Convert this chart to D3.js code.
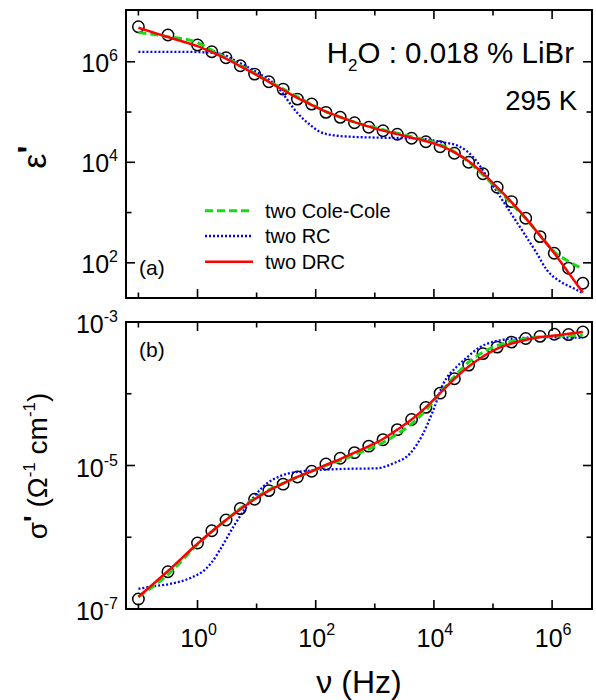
<!DOCTYPE html>
<html><head><meta charset="utf-8">
<script src="https://cdn.jsdelivr.net/npm/d3@7"></script>
<style>body{margin:0;background:#fff} svg{display:block}</style>
</head><body>
<svg id="c" width="596" height="700"></svg>
<script>
// ---- data (frequency in Hz) ----
const nu = [0.1, 0.316, 1, 1.744, 3.04, 5.30, 9.25, 16.1, 28.1, 49.0, 85.5, 149, 260, 453, 791,
  1377, 2404, 4188, 7311, 12735, 22233, 38726, 67608, 117761, 205589, 358096, 625173, 1089000, 1901000, 3311000];

const epsMeas = [4.97e6, 3.40e6, 2.15e6, 1.58e6, 1.20e6, 8.32e5, 5.69e5, 4.00e5, 2.86e5, 1.81e5,
  1.44e5, 9.86e4, 7.85e4, 6.12e4, 4.97e4, 4.25e4, 3.61e4, 3.00e4, 2.57e4, 2.04e4,
  1.51e4, 1.00e4, 5.93e3, 3.18e3, 1.65e3, 771, 332, 155, 78.2, 39.3];
const epsColeCole = [3.84e6, 3.16e6, 2.40e6, 1.70e6, 1.20e6, 8.51e5, 5.89e5, 4.07e5, 2.88e5, 2.00e5,
  1.41e5, 1.02e5, 7.94e4, 6.31e4, 5.25e4, 4.47e4, 3.80e4, 3.24e4, 2.75e4, 2.24e4,
  1.62e4, 1.02e4, 5.62e3, 2.95e3, 1.51e3, 759, 355, 166, 107, 75.9];
const epsDRC = [4.74e6, 3.09e6, 2.04e6, 1.55e6, 1.15e6, 8.13e5, 5.75e5, 3.98e5, 2.75e5, 1.91e5,
  1.38e5, 1.02e5, 7.94e4, 6.31e4, 5.13e4, 4.27e4, 3.63e4, 3.09e4, 2.63e4, 2.14e4,
  1.58e4, 1.05e4, 6.03e3, 3.16e3, 1.62e3, 776, 347, 155, 63.1, 25.7];
const nuRCeps = [0.1, 0.5, 1.86, 2.82, 4.07, 8.71, 22.4, 49, 81.3, 117, 195, 380, 1380, 5130,
  12600, 27500, 45700, 79400, 132000, 219000, 347000, 550000, 813000, 1380000, 2290000, 3310000];
const epsRC = [1.58e6, 1.58e6, 1.51e6, 1.38e6, 1.10e6, 6.84e5, 3.18e5, 9.55e4, 5.48e4, 4.06e4, 3.46e4, 3.23e4, 3.08e4, 3.00e4,
  2.57e4, 2.04e4, 1.29e4, 5.18e3, 2.07e3, 828, 363, 155, 72.3, 42.3, 31.3, 24.9];

const sigMeas = [1.38e-7, 3.31e-7, 8.32e-7, 1.23e-6, 1.74e-6, 2.51e-6, 3.39e-6, 4.47e-6, 5.50e-6, 6.92e-6,
  8.32e-6, 1.05e-5, 1.26e-5, 1.51e-5, 1.86e-5, 2.29e-5, 3.16e-5, 4.37e-5, 6.46e-5, 1.02e-4,
  1.62e-4, 2.51e-4, 3.63e-4, 4.47e-4, 5.25e-4, 5.89e-4, 6.31e-4, 6.76e-4, 6.68e-4, 7.24e-4];
const sigColeCole = [1.48e-7, 3.02e-7, 7.94e-7, 1.20e-6, 1.74e-6, 2.51e-6, 3.47e-6, 4.57e-6, 5.62e-6, 6.92e-6,
  8.32e-6, 1.00e-5, 1.17e-5, 1.41e-5, 1.70e-5, 2.09e-5, 2.75e-5, 3.80e-5, 5.89e-5, 1.02e-4,
  1.74e-4, 2.75e-4, 3.80e-4, 4.68e-4, 5.37e-4, 5.89e-4, 6.17e-4, 6.31e-4, 6.46e-4, 6.53e-4];
const sigDRC = [1.48e-7, 3.39e-7, 8.13e-7, 1.20e-6, 1.74e-6, 2.45e-6, 3.39e-6, 4.47e-6, 5.62e-6, 6.92e-6,
  8.32e-6, 1.02e-5, 1.23e-5, 1.51e-5, 1.86e-5, 2.34e-5, 3.16e-5, 4.37e-5, 6.46e-5, 1.02e-4,
  1.62e-4, 2.40e-4, 3.31e-4, 4.27e-4, 5.01e-4, 5.62e-4, 6.17e-4, 6.46e-4, 6.84e-4, 7.24e-4];
const nuRCsig = [0.1, 0.158, 0.343, 0.746, 1.43, 1.74, 2.4, 4.07, 6.76, 12.9, 28.2, 53.7, 257, 1070, 2040,
  3980, 6610, 9770, 14500, 24500, 35500, 60300, 89100, 132000, 219000, 372000, 708000, 1380000, 3311000];
const sigRC = [1.91e-7, 2.04e-7, 2.24e-7, 2.69e-7, 3.72e-7, 4.47e-7, 6.68e-7, 1.41e-6, 2.67e-6, 5.07e-6, 7.38e-6, 8.20e-6, 8.93e-6, 9.14e-6, 1.07e-5,
  1.48e-5, 2.81e-5, 5.92e-5, 1.39e-4, 2.40e-4, 3.16e-4, 4.47e-4, 5.13e-4, 5.56e-4, 5.89e-4, 6.03e-4, 6.17e-4, 6.10e-4, 6.03e-4];

const xTickExps = [-1, 0, 1, 2, 3, 4, 5, 6];
const xLabelExps = [0, 2, 4, 6];
const epsTickExps = [2, 3, 4, 5, 6];
const epsLabelExps = [2, 4, 6];
const sigTickExps = [-7, -6, -5, -4, -3];
const sigLabelExps = [-7, -5, -3];
const legendLabels = ["two Cole-Cole", "two RC", "two DRC"];

// ---- drawing ----
const FONT = "'Liberation Sans', Arial, Helvetica, sans-serif";
const svg = d3.select("#c").style("font-family", FONT);
const L = 126, R = 592;
const topP = {t: 10, b: 298}, botP = {t: 322, b: 609};
const x = d3.scaleLog().domain([Math.pow(10, -1.21), Math.pow(10, 6.675)]).range([L, R]);
const yE = d3.scaleLog().domain([Math.pow(10, 1.3), Math.pow(10, 7.03)]).range([topP.b, topP.t]);
const yS = d3.scaleLog().domain([1e-7, 1e-3]).range([botP.b, botP.t]);

const styles = {
  cc: {stroke: "#14dc14", width: 3, dash: "8,4"},
  rc: {stroke: "#0000ff", width: 2.3, dash: "2,2"},
  drc: {stroke: "#ff0000", width: 2.5, dash: null}
};

function panel(y, p, tickExps, labelExps, labelDy) {
  const g = svg.append("g");
  const MAJ = 9, MIN = 5.5;
  const xMaj = e => e % 2 === 0;
  xTickExps.forEach(e => {
    const xx = x(Math.pow(10, e));
    const len = xMaj(e) ? MAJ : MIN;
    g.append("line").attr("x1", xx).attr("x2", xx).attr("y1", p.b).attr("y2", p.b - len).attr("stroke", "#000").attr("stroke-width", 1.6);
    g.append("line").attr("x1", xx).attr("x2", xx).attr("y1", p.t).attr("y2", p.t + len).attr("stroke", "#000").attr("stroke-width", 1.6);
  });
  tickExps.forEach(e => {
    const yy = y(Math.pow(10, e));
    const len = labelExps.includes(e) ? MAJ : MIN;
    g.append("line").attr("x1", L).attr("x2", L + len).attr("y1", yy).attr("y2", yy).attr("stroke", "#000").attr("stroke-width", 1.6);
    g.append("line").attr("x1", R).attr("x2", R - len).attr("y1", yy).attr("y2", yy).attr("stroke", "#000").attr("stroke-width", 1.6);
  });
  labelExps.forEach(e => {
    const yy = y(Math.pow(10, e));
    const t = g.append("text").attr("x", 118).attr("y", yy + labelDy).attr("text-anchor", "end").attr("font-size", 25);
    t.append("tspan").text("10");
    t.append("tspan").attr("font-size", 16).attr("dy", -11).text(String(e));
  });
  g.append("rect").attr("x", L).attr("y", p.t).attr("width", R - L).attr("height", p.b - p.t)
    .attr("fill", "none").attr("stroke", "#000").attr("stroke-width", 2);
  return g;
}

function curve(g, xs, ys, y, st) {
  const line = d3.line().x(d => x(d[0])).y(d => y(d[1])).curve(d3.curveMonotoneX);
  const p = g.append("path").attr("d", line(xs.map((v, i) => [v, ys[i]])))
    .attr("fill", "none").attr("stroke", st.stroke).attr("stroke-width", st.width)
    .attr("stroke-linejoin", "round");
  if (st.dash) p.attr("stroke-dasharray", st.dash);
}
function circles(g, xs, ys, y) {
  g.selectAll(null).data(xs).enter().append("circle")
    .attr("cx", d => x(d)).attr("cy", (d, i) => y(ys[i])).attr("r", 5.7)
    .attr("fill", "none").attr("stroke", "#000").attr("stroke-width", 1.5);
}

// top panel
const gT = panel(yE, topP, epsTickExps, epsLabelExps, 10);
circles(gT, nu, epsMeas, yE);
curve(gT, nuRCeps, epsRC, yE, styles.rc);
curve(gT, nu, epsColeCole, yE, styles.cc);
curve(gT, nu, epsDRC, yE, styles.drc);

// bottom panel
const gB = panel(yS, botP, sigTickExps, sigLabelExps, 11);
circles(gB, nu, sigMeas, yS);
curve(gB, nuRCsig, sigRC, yS, styles.rc);
curve(gB, nu, sigColeCole, yS, styles.cc);
curve(gB, nu, sigDRC, yS, styles.drc);

// x tick labels
xLabelExps.forEach(e => {
  const t = svg.append("text").attr("x", x(Math.pow(10, e)) + 1).attr("y", 647).attr("text-anchor", "middle").attr("font-size", 25);
  t.append("tspan").text("10");
  t.append("tspan").attr("font-size", 16).attr("dy", -12).text(e);
});

// legend
const legSt = [styles.cc, styles.rc, styles.drc];
const legY = [210.7, 236, 261.7];
legendLabels.forEach((lab, i) => {
  const st = legSt[i];
  const ln = svg.append("line").attr("x1", 205).attr("x2", 253).attr("y1", legY[i]).attr("y2", legY[i])
    .attr("stroke", st.stroke).attr("stroke-width", st.width);
  if (st.dash) ln.attr("stroke-dasharray", st.dash);
  svg.append("text").attr("x", 265).attr("y", legY[i] + 7).attr("font-size", 20).text(lab);
});

// panel tags and annotations
svg.append("text").attr("x", 139).attr("y", 275).attr("font-size", 21).text("(a)");
svg.append("text").attr("x", 139).attr("y", 357).attr("font-size", 21).text("(b)");
const h = svg.append("text").attr("x", 574).attr("y", 62.5).attr("text-anchor", "end").attr("font-size", 29.5);
h.append("tspan").text("H");
h.append("tspan").attr("font-size", 17).attr("dy", 8).text("2");
h.append("tspan").attr("dy", -8).text("O : 0.018 % LiBr");
svg.append("text").attr("x", 577).attr("y", 109.5).attr("text-anchor", "end").attr("font-size", 27.5).text("295 K");

// axis titles
const eT = svg.append("text").attr("transform", "translate(46,157) rotate(-90)").attr("text-anchor", "middle").attr("font-size", 34);
eT.append("tspan").text("ε");
eT.append("tspan").attr("dy", -5).attr("font-weight", "bold").text("'");

const sT = svg.append("text").attr("transform", "translate(47,466) rotate(-90)").attr("text-anchor", "middle").attr("font-size", 28);
sT.append("tspan").text("σ");
sT.append("tspan").attr("dy", -4).attr("font-weight", "bold").text("'");
sT.append("tspan").attr("dy", 4).text(" (Ω");
sT.append("tspan").attr("font-size", 17).attr("dy", -12).text("-1");
sT.append("tspan").attr("dy", 12).text(" cm");
sT.append("tspan").attr("font-size", 17).attr("dy", -12).text("-1");
sT.append("tspan").attr("dy", 12).text(")");

svg.append("text").attr("x", 359).attr("y", 693).attr("text-anchor", "middle").attr("font-size", 32).text("ν (Hz)");
</script>
</body></html>
